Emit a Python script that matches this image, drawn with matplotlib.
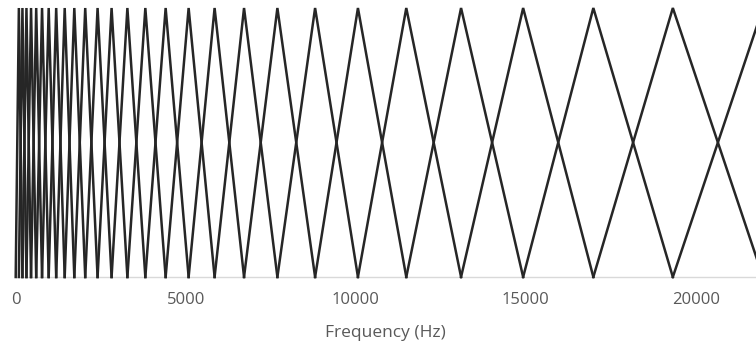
import matplotlib
matplotlib.use("Agg")
import matplotlib.pyplot as plt

# Centre frequencies (Hz) of the triangular filters
centres = [0, 93, 198, 316, 451, 603, 775, 970, 1191, 1441, 1724, 2045,
           2408, 2820, 3285, 3813, 4410, 5086, 5850, 6716, 7697, 8806,
           10066, 11488, 13099, 14925, 16990, 19328, 21979]
xticks = [0, 5000, 10000, 15000, 20000]
xlabel = "Frequency (Hz)"

line_col = "#262626"
text_col = "#595959"

fig = plt.figure(figsize=[7.56, 3.48], dpi=100)
ax = fig.add_axes([15.7 / 756, 1 - 277 / 348, 1 - 15.7 / 756, 269 / 348])

# one triangle per filter: 0 at the previous centre, 1 at its own, 0 at the next
for i in range(1, len(centres)):
    if i + 1 < len(centres):
        xs = [centres[i - 1], centres[i], centres[i + 1]]
        ys = [0, 1, 0]
    else:
        xs = [centres[i - 1], centres[i]]
        ys = [0, 1]
    ax.plot(xs, ys, color=line_col, linewidth=1.8, solid_joinstyle="miter",
            clip_on=False)

ax.set_xlim(0, 21774)
ax.set_ylim(0, 1)
for s in ["top", "right", "left"]:
    ax.spines[s].set_visible(False)
ax.spines["bottom"].set_color("#d9d9d9")
ax.spines["bottom"].set_linewidth(1.0)
ax.spines["bottom"].set_zorder(0)
ax.set_yticks([])
ax.set_xticks(xticks)
ax.set_xticklabels([str(t) for t in xticks])
ax.tick_params(axis="x", length=0, pad=11, labelsize=12, labelcolor=text_col)
for lab in ax.get_xticklabels():
    lab.set_family("Open Sans")
ax.set_xlabel(xlabel, fontsize=12.5, color=text_col, family="Open Sans",
              labelpad=12)

fig.savefig("out.png", dpi=100)
